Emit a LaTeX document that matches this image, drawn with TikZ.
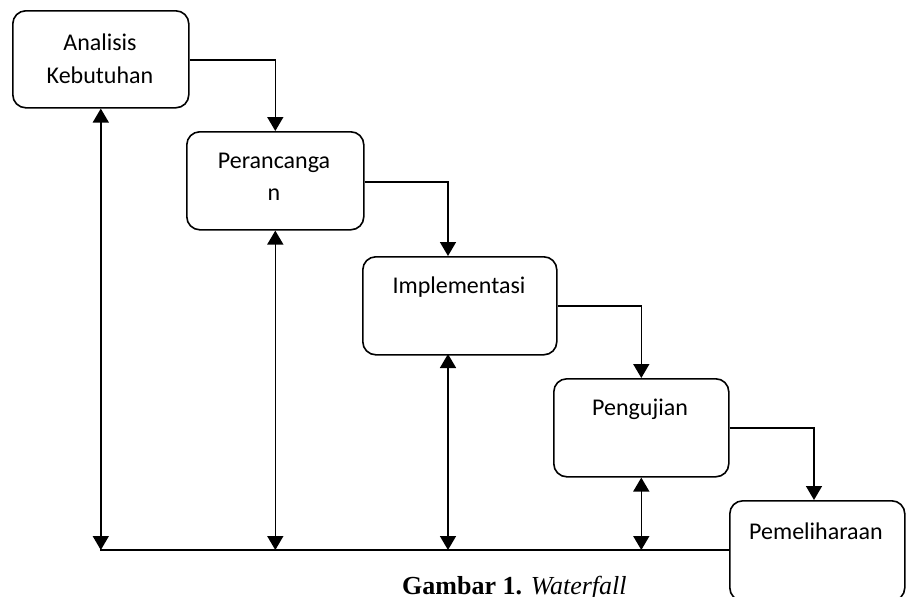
\documentclass[tikz,border=0pt]{standalone}
\usepackage{fontspec}
\setmainfont{Liberation Serif}
\newfontfamily\boxfont{Carlito}
\usetikzlibrary{arrows.meta}
\begin{document}
\begin{tikzpicture}[x=1pt,y=-1pt,
  stage/.style={draw=black,line width=1.6pt,rounded corners=13pt,inner sep=0pt,anchor=north west},
  lbl/.style={font=\boxfont\fontsize{24}{33}\selectfont,inner sep=0pt,anchor=center},
  flow/.style={line width=1.6pt,-{Triangle[length=14pt,width=16pt]}},
  dbl/.style={line width=1.6pt,{Triangle[length=14pt,width=16pt]}-{Triangle[length=14pt,width=16pt]}},
  base/.style={line width=1.6pt}]
\useasboundingbox (0,0) rectangle (906,597);
% boxes
\node[stage,minimum width=176pt,minimum height=97pt] (b1) at (12,10) {};
\node[stage,minimum width=177pt,minimum height=98pt] (b2) at (186,131) {};
\node[stage,minimum width=194pt,minimum height=98pt] (b3) at (362,256) {};
\node[stage,minimum width=175pt,minimum height=98pt] (b4) at (553,378) {};
\node[stage,minimum width=175pt,minimum height=100pt] (b5) at (729,500) {};
% texts
\node[lbl] (t1a) at (100,42) {Analisis};
\node[lbl] (t1b) at (100,75) {Kebutuhan};
\node[lbl] (t2a) at (274,163) {Perancanga};
\node[lbl] (t2b) at (274,195) {n};
\node[lbl] (t3) at (459,287) {Implementasi};
\node[lbl] (t4) at (640,409) {Pengujian};
\node[lbl] (t5) at (816,531) {Pemeliharaan};
% forward flow
\coordinate (o1) at (b1.east |- 0,60);
\coordinate (o2) at (b2.east |- 0,182);
\coordinate (o3) at (b3.east |- 0,306);
\coordinate (o4) at (b4.east |- 0,428);
\coordinate (i3) at (448,256);
\coordinate (i5) at (814,500);
\draw[flow] (o1) -| (b2.north);
\draw[flow] (o2) -| (i3);
\draw[flow] (o3) -| (b4.north);
\draw[flow] (o4) -| (i5);
% feedback
\coordinate (base) at (100,550);
\coordinate (s3) at (448,354);
\draw[base] (base) -- (b5.west |- base);
\draw[dbl] (b1.south) -- (b1.south |- base);
\draw[dbl] (b2.south) -- (b2.south |- base);
\draw[dbl] (s3) -- (s3 |- base);
\draw[dbl] (b4.south) -- (b4.south |- base);
% caption
\node[font=\fontsize{26}{30}\selectfont,inner sep=0pt,anchor=base west] (cap) at (402,594) {\textbf{Gambar 1.} \textit{Waterfall}};
\end{tikzpicture}
\end{document}
